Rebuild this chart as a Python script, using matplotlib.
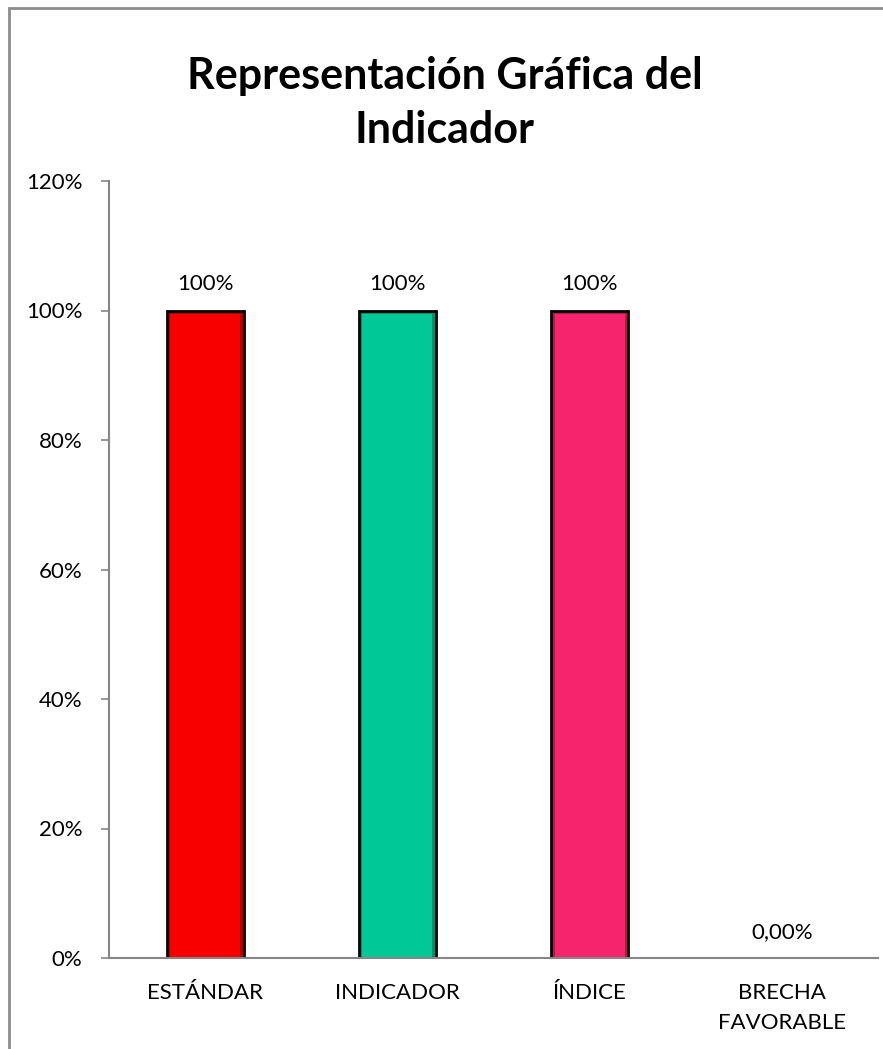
import matplotlib.pyplot as plt
import matplotlib.patches as patches
from matplotlib.ticker import FuncFormatter

# datos
categorias = ['ESTÁNDAR', 'INDICADOR', 'ÍNDICE', 'BRECHA\nFAVORABLE']
valores = [1.0, 1.0, 1.0, 0.0]
etiquetas = ['100%', '100%', '100%', '0,00%']
colores = ['#f90000', '#00c896', '#f5246c', '#ffffff']
oscuros = ['#b00000', '#00906c', '#b8154e', '#ffffff']

plt.rcParams['font.family'] = ['Lato', 'DejaVu Sans']

fig = plt.figure(figsize=(8.83, 10.49), dpi=100)
ax = fig.add_axes([109 / 883, 1 - 958 / 1049, (878 - 109) / 883, (958 - 181) / 1049])

x = list(range(len(categorias)))
ancho = 0.4
for i, v in enumerate(valores):
    if v <= 0:
        continue
    # borde oscuro y cara interior (efecto bisel)
    ax.bar(x[i], v, width=ancho, color=oscuros[i], edgecolor='black', linewidth=2, zorder=2)
    ax.bar(x[i], v - 0.008, bottom=0.002, width=ancho - 0.035, color=colores[i],
           linewidth=0, zorder=3)

for i, v in enumerate(valores):
    ax.text(x[i], v + 0.025, etiquetas[i], ha='center', va='bottom', fontsize=16, color='black')

ax.set_xlim(-0.5, len(categorias) - 0.5)
ax.set_ylim(0, 1.2)
ax.set_yticks([0, 0.2, 0.4, 0.6, 0.8, 1.0, 1.2])
ax.yaxis.set_major_formatter(FuncFormatter(lambda v, p: '{:.0f}%'.format(v * 100)))
ax.set_xticks(x)
ax.set_xticklabels(categorias, fontsize=16, linespacing=1.65)
ax.tick_params(axis='y', labelsize=16, length=6, width=1.2, color='#868686', pad=13)
ax.tick_params(axis='x', length=0, pad=18)

for s in ['top', 'right']:
    ax.spines[s].set_visible(False)
for s in ['left', 'bottom']:
    ax.spines[s].set_color('#868686')
    ax.spines[s].set_linewidth(1.5)

fig.text(445 / 883, 1 - 103 / 1049, 'Representación Gráfica del\nIndicador', ha='center', va='center',
         fontsize=31, fontweight='bold', linespacing=1.4)

# marco del gráfico
marco = patches.Rectangle((8.5 / 883, -0.05), 1.1, 1.05 - 7.5 / 1049, transform=fig.transFigure,
                          fill=False, edgecolor='#8c8c8c', linewidth=2, clip_on=False)
fig.patches.append(marco)

fig.savefig('out.png', dpi=100)
